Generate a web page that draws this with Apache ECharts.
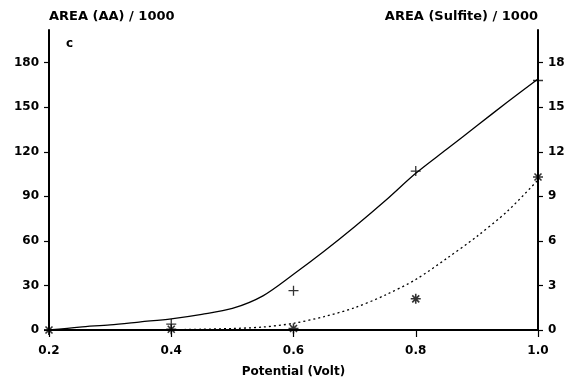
<!DOCTYPE html>
<html>
<head>
<meta charset="utf-8">
<script src="https://cdn.jsdelivr.net/npm/echarts@6/dist/echarts.min.js"></script>
<style>
  html, body { margin: 0; padding: 0; background: #fff; }
  #chart { width: 569px; height: 383px; }
</style>
</head>
<body>
<div id="chart"></div>
<script>
// measured points
const potential = [0.2, 0.4, 0.6, 0.8, 1.0];
const aaPoints = [0, 4, 26.5, 107, 168];
const sulfitePoints = [0, 0.05, 0.1, 2.1, 10.3];

// fitted curves
const curveX = [0.2, 0.25, 0.3, 0.35, 0.4, 0.45, 0.5, 0.55, 0.6, 0.65, 0.7, 0.75, 0.8, 0.85, 0.9, 0.95, 1.0];
const aaCurve = [0, 2, 3.5, 5.5, 7.5, 10.5, 14.5, 23, 37.5, 53, 69.5, 87, 105.5, 121.5, 137.5, 153.5, 169];
const sulfiteCurve = [0, 0, 0, 0, 0.02, 0.05, 0.1, 0.2, 0.45, 0.9, 1.5, 2.35, 3.4, 4.8, 6.3, 8.0, 10.1];

const leftTicks = [0, 30, 60, 90, 120, 150, 180];
const rightTicks = [0, 3, 6, 9, 12, 15, 18];

const pair = (xs, ys) => xs.map((x, i) => [x, ys[i]]);

const FONT = 'DejaVu Sans';
const plus = 'path://M5,0 L5,10 M0,5 L10,5';
const star = 'path://M5,0 L5,10 M0,5 L10,5 M1.5,1.5 L8.5,8.5 M8.5,1.5 L1.5,8.5';

const chart = echarts.init(document.getElementById('chart'), null, { renderer: 'canvas' });

const yAxisBase = {
  type: 'value',
  min: 0,
  splitLine: { show: false },
  axisLine: { show: true, lineStyle: { color: '#000', width: 2 } },
  axisTick: { show: true, inside: false, length: 5, lineStyle: { color: '#000', width: 1.2 } },
  axisLabel: { color: '#000', fontFamily: FONT, fontWeight: 'bold', fontSize: 12, margin: 10 },
  nameLocation: 'end',
  nameGap: 13,
};

const option = {
  backgroundColor: '#fff',
  animation: false,
  grid: { left: 49, right: 31, top: 30, bottom: 49 },
  xAxis: {
    type: 'value',
    min: 0.2,
    max: 1.0,
    interval: 0.2,
    splitLine: { show: false },
    axisLine: { lineStyle: { color: '#000', width: 1.8 } },
    axisTick: { inside: false, length: 7, lineStyle: { color: '#000', width: 1.2 } },
    axisLabel: {
      color: '#000', fontFamily: FONT, fontWeight: 'bold', fontSize: 12, margin: 15,
      formatter: (v) => v.toFixed(1),
    },
    name: 'Potential (Volt)',
    nameLocation: 'middle',
    nameGap: 36,
    nameTextStyle: { color: '#000', fontFamily: FONT, fontWeight: 'bold', fontSize: 12 },
  },
  yAxis: [
    Object.assign({}, yAxisBase, {
      position: 'left',
      max: 202,
      axisTick: Object.assign({}, yAxisBase.axisTick, { customValues: leftTicks }),
      axisLabel: Object.assign({}, yAxisBase.axisLabel, { customValues: leftTicks }),
      name: 'AREA (AA) / 1000',
      nameTextStyle: { color: '#000', fontFamily: FONT, fontWeight: 'bold', fontSize: 13, align: 'left', verticalAlign: 'middle' },
    }),
    Object.assign({}, yAxisBase, {
      position: 'right',
      max: 20.2,
      axisTick: Object.assign({}, yAxisBase.axisTick, { customValues: rightTicks }),
      axisLabel: Object.assign({}, yAxisBase.axisLabel, { customValues: rightTicks }),
      name: 'AREA (Sulfite) / 1000',
      nameTextStyle: { color: '#000', fontFamily: FONT, fontWeight: 'bold', fontSize: 13, align: 'right', verticalAlign: 'middle' },
    }),
  ],
  graphic: [
    {
      type: 'text', left: 66, top: 38,
      style: { text: 'c', fill: '#000', font: 'bold 12px "DejaVu Sans"' },
    },
  ],
  series: [
    {
      type: 'line', yAxisIndex: 0, data: pair(curveX, aaCurve), smooth: 0.3,
      showSymbol: false, lineStyle: { color: '#000', width: 1.3 }, z: 2,
    },
    {
      type: 'line', yAxisIndex: 1, data: pair(curveX, sulfiteCurve), smooth: 0.3,
      showSymbol: false, lineStyle: { color: '#000', width: 1.3, type: [2, 3] }, z: 2,
    },
    {
      type: 'scatter', yAxisIndex: 0, data: pair(potential, aaPoints),
      symbol: plus, symbolSize: 10,
      itemStyle: { color: 'none', borderColor: '#000', borderWidth: 1.3 }, z: 3,
    },
    {
      type: 'scatter', yAxisIndex: 1, data: pair(potential, sulfitePoints),
      symbol: star, symbolSize: 10,
      itemStyle: { color: 'none', borderColor: '#000', borderWidth: 1.6 }, z: 3,
    },
  ],
};

chart.setOption(option);
</script>
</body>
</html>
